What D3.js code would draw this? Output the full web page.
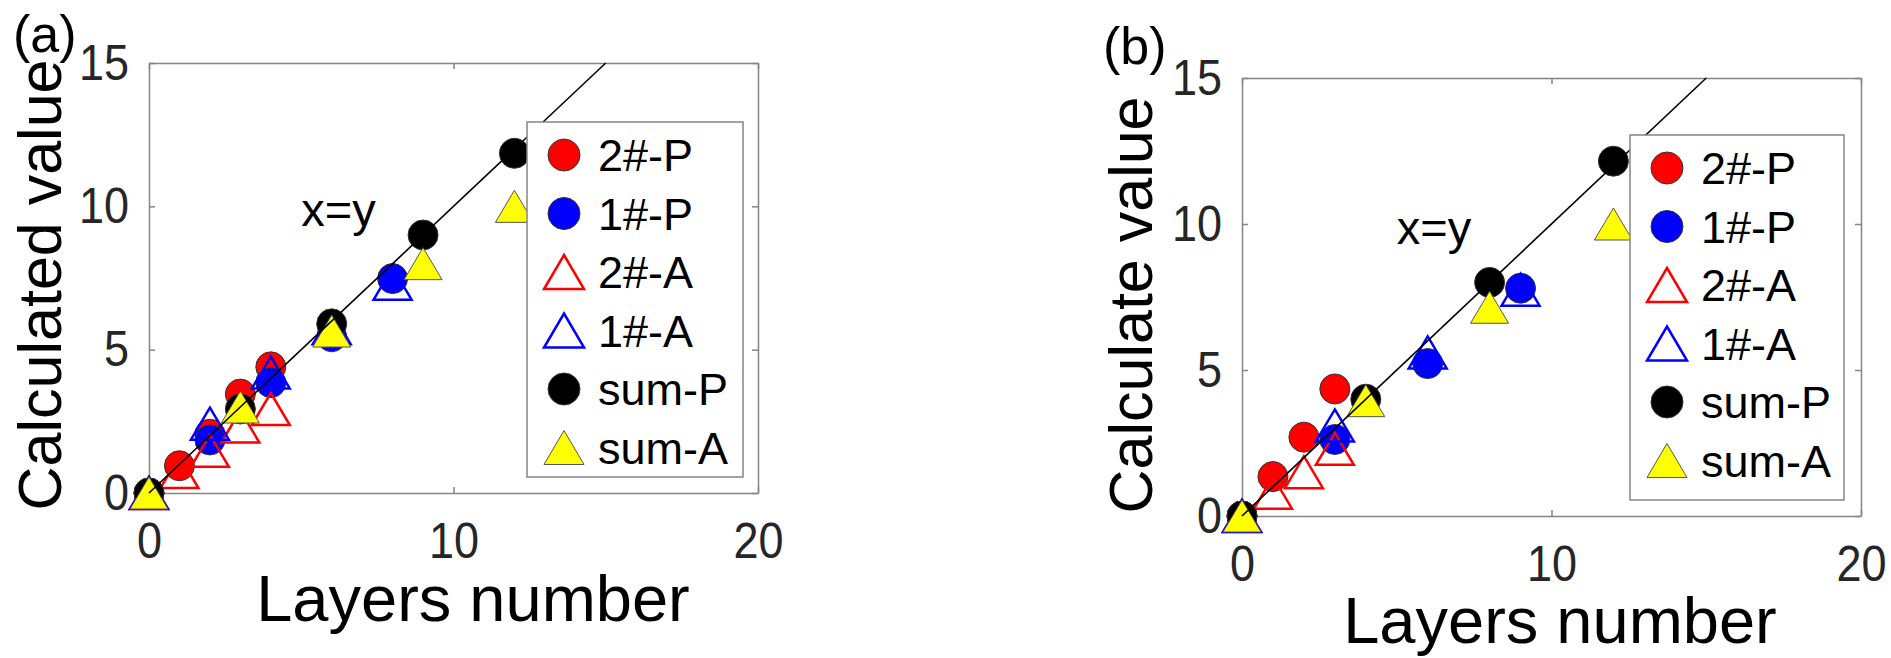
<!DOCTYPE html>
<html>
<head>
<meta charset="utf-8">
<script src="https://cdn.jsdelivr.net/npm/d3@7"></script>
<style>
    body { margin: 0; background: #fff; }
    svg { display: block; font-family: "Liberation Sans", Arial, sans-serif; }
    .axis path, .axis line { stroke: #858585; stroke-width: 1.5; }
    .axis text { fill: #262626; font-size: 50px; }
</style>
</head>
<body>
<script>
// legend order = draw order
var seriesNames = ["2#-P", "1#-P", "2#-A", "1#-A", "sum-P", "sum-A"];
var xTicks = [0, 10, 20],
    yTicks = [0, 5, 10, 15];

// panel (a): [layers, calculated value]
var a2P = [[0, 0], [1, 0.95], [2, 2.05], [3, 3.45], [4, 4.4]];
var a1P = [[0, 0], [2, 1.85], [4, 3.85], [6, 5.45], [8, 7.48]];
var a2A = [[0, 0], [1, 0.73], [2, 1.47], [3, 2.32], [4, 2.93]];
var a1A = [[0, 0], [2, 2.42], [4, 4.2], [6, 5.75], [8, 7.3]];
var aSumP = [[0, 0], [3, 2.93], [6, 5.9], [9, 9.0], [12, 11.85]];
var aSumA = [[0, 0], [3, 3.0], [6, 5.65], [9, 8.0], [12, 10.0]];

// panel (b)
var b2P = [[0, 0], [1, 1.35], [2, 2.7], [3, 4.35]];
var b1P = [[0, 0], [3, 2.62], [6, 5.22], [9, 7.8]];
var b2A = [[0, 0], [1, 0.8], [2, 1.5], [3, 2.3]];
var b1A = [[0, 0], [3, 3.1], [6, 5.6], [9, 7.75]];
var bSumP = [[0, 0], [4, 4.0], [8, 8.0], [12, 12.15]];
var bSumA = [[0, 0], [4, 3.95], [8, 7.15], [12, 10.0]];

var refLine = [[0, 0], [15, 15]];

var svg = d3.select("body").append("svg")
    .attr("width", 1891)
    .attr("height", 658);

function scatterPanel() {
    var _p = {};
    var _box, _legend, _label, _yLabel, _xLabel, _series = [];
    var _x, _y;

    var styles = [
        {shape: "circle", fill: "#ff0000", stroke: "#333", sw: 1},
        {shape: "circle", fill: "#0000ff", stroke: "#333", sw: 1},
        {shape: "triangle", fill: "none", stroke: "#ff0000", sw: 2.5},
        {shape: "triangle", fill: "none", stroke: "#0000ff", sw: 2.5},
        {shape: "circle", fill: "#000000", stroke: "#333", sw: 1},
        {shape: "triangle", fill: "#ffff00", stroke: "#555", sw: 1}
    ];

    function marker(sel, st, r) {
        if (st.shape === "circle") {
            sel.append("circle").attr("r", r);
        } else {
            var h = r + 1, w = r + 4;
            sel.append("path").attr("d", "M0," + (-h) + "L" + w + "," + h + "L" + (-w) + "," + h + "Z");
        }
        sel.selectAll("circle,path")
            .attr("fill", st.fill)
            .attr("stroke", st.stroke)
            .attr("stroke-width", st.sw)
            .attr("stroke-linejoin", "miter");
    }

    // tick labels in the picture are narrower than Liberation Sans
    function squeeze(axisG) {
        axisG.selectAll("text").each(function() {
            var t = d3.select(this), x = +t.attr("x") || 0;
            t.attr("x", 0).attr("transform", "translate(" + x + ",0) scale(0.9,1)");
        });
    }

    _p.render = function() {
        _x = d3.scaleLinear().domain([0, 20]).range([_box.left, _box.right]);
        _y = d3.scaleLinear().domain([0, 15]).range([_box.bottom, _box.top]);

        var g = svg.append("g");

        g.append("g").attr("class", "axis")
            .attr("transform", "translate(0," + _box.bottom + ")")
            .call(d3.axisBottom(_x).tickValues(xTicks).tickSizeInner(-6).tickSizeOuter(0).tickPadding(30))
            .call(squeeze);
        g.append("g").attr("class", "axis")
            .attr("transform", "translate(0," + _box.top + ")")
            .call(d3.axisTop(_x).tickValues(xTicks).tickSizeInner(-6).tickSizeOuter(0).tickFormat(""));
        g.append("g").attr("class", "axis")
            .attr("transform", "translate(" + _box.left + ",0)")
            .call(d3.axisLeft(_y).tickValues(yTicks).tickSizeInner(-6).tickSizeOuter(0).tickPadding(20))
            .call(squeeze);
        g.append("g").attr("class", "axis")
            .attr("transform", "translate(" + _box.right + ",0)")
            .call(d3.axisRight(_y).tickValues(yTicks).tickSizeInner(-6).tickSizeOuter(0).tickFormat(""));

        // markers
        _series.forEach(function(data, i) {
            var st = styles[i];
            g.append("g").selectAll("g")
                .data(data)
                .enter().append("g")
                .attr("transform", function(d) { return "translate(" + _x(d[0]) + "," + _y(d[1]) + ")"; })
                .each(function() { marker(d3.select(this), st, 15); });
        });

        // x=y line
        g.append("path")
            .datum(refLine)
            .attr("fill", "none")
            .attr("stroke", "#000")
            .attr("stroke-width", 1.6)
            .attr("d", d3.line().x(function(d) { return _x(d[0]); }).y(function(d) { return _y(d[1]); }));

        g.append("text")
            .attr("x", _x(5)).attr("y", _y(9.3))
            .attr("font-size", 47)
            .text("x=y");

        // legend
        var lg = g.append("g").attr("transform", "translate(" + _legend.x + "," + _legend.y + ")");
        lg.append("rect")
            .attr("width", _legend.w).attr("height", _legend.h)
            .attr("fill", "#fff").attr("stroke", "#858585").attr("stroke-width", 1.5);
        seriesNames.forEach(function(name, i) {
            var row = lg.append("g").attr("transform", "translate(0," + (33 + i * 58.5) + ")");
            var m = row.append("g").attr("transform", "translate(37,0)");
            marker(m, styles[i], 16);
            row.append("text")
                .attr("x", 71).attr("y", 16)
                .attr("font-size", 45)
                .text(name);
        });

        g.append("text")
            .attr("x", _label.x).attr("y", _label.y)
            .attr("font-size", 52)
            .text(_label.text);

        g.append("text")
            .attr("transform", "translate(" + _yLabel.x + "," + _yLabel.y + ") rotate(-90)")
            .attr("text-anchor", "middle")
            .attr("font-size", 61)
            .text(_yLabel.text);

        g.append("text")
            .attr("x", _xLabel.x).attr("y", _xLabel.y)
            .attr("text-anchor", "middle")
            .attr("font-size", 65)
            .text("Layers number");

        return _p;
    };

    _p.box = function(b) { _box = b; return _p; };
    _p.legend = function(l) { _legend = l; return _p; };
    _p.label = function(l) { _label = l; return _p; };
    _p.yLabel = function(l) { _yLabel = l; return _p; };
    _p.xLabel = function(l) { _xLabel = l; return _p; };
    _p.addSeries = function(s) { _series.push(s); return _p; };

    return _p;
}

var panelA = scatterPanel()
    .box({left: 149, right: 758, top: 63, bottom: 493})
    .legend({x: 527, y: 122, w: 216, h: 355})
    .label({x: 13, y: 52, text: "(a)"})
    .yLabel({x: 61, y: 285, text: "Calculated value"})
    .xLabel({x: 473, y: 621});
[a2P, a1P, a2A, a1A, aSumP, aSumA].forEach(function(s) { panelA.addSeries(s); });
panelA.render();

var panelB = scatterPanel()
    .box({left: 1242, right: 1861, top: 78, bottom: 516})
    .legend({x: 1630, y: 135, w: 214, h: 365})
    .label({x: 1103, y: 64, text: "(b)"})
    .yLabel({x: 1152, y: 305, text: "Calculate value"})
    .xLabel({x: 1560, y: 643});
[b2P, b1P, b2A, b1A, bSumP, bSumA].forEach(function(s) { panelB.addSeries(s); });
panelB.render();
</script>
</body>
</html>
